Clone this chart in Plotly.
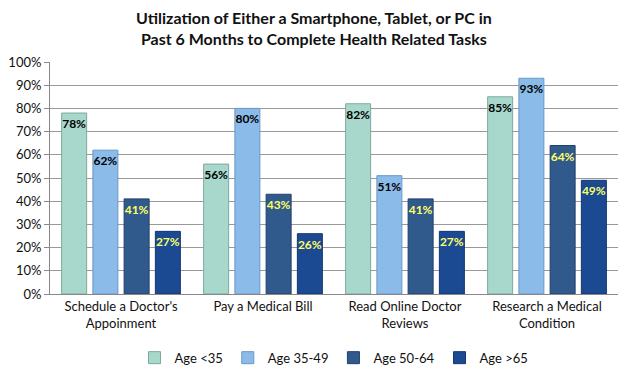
import plotly.graph_objects as go

categories = ["Schedule a Doctor's<br>Appoinment", "Pay a Medical Bill", "Read Online Doctor<br>Reviews", "Research a Medical<br>Condition"]
series_names = ["Age <35", "Age 35-49", "Age 50-64", "Age >65"]
age_lt35 = [78, 56, 82, 85]
age_35_49 = [62, 80, 51, 93]
age_50_64 = [41, 43, 41, 64]
age_gt65 = [27, 26, 27, 49]
tick_vals = [0, 10, 20, 30, 40, 50, 60, 70, 80, 90, 100]
tick_text = [f"{v}%" for v in tick_vals]

colors = ["#a8d8cc", "#8bbbe8", "#30598c", "#1c4a92"]
line_colors = ["#7fa89c", "#6a98c8", "#22416a", "#143670"]
text_colors = ["#000000", "#000000", "#ffff66", "#ffff66"]

fig = go.Figure()
for name, vals, c, lc, tc in zip(series_names, [age_lt35, age_35_49, age_50_64, age_gt65], colors, line_colors, text_colors):
    fig.add_trace(go.Bar(
        name=name, x=categories, y=vals,
        marker=dict(color=c, line=dict(color=lc, width=1)),
        text=[f"{v}%" for v in vals], textposition="inside", insidetextanchor="end",
        textangle=0,
        textfont=dict(color=tc, size=12, family="Lato, Open Sans, sans-serif", weight="bold"),
        cliponaxis=False,
    ))

fig.add_annotation(
    text="<b>Utilization of Either a Smartphone, Tablet, or PC in<br>Past 6 Months to Complete Health Related Tasks</b>",
    xref="paper", yref="paper", x=0.465, y=1, xanchor="center", yanchor="bottom",
    yshift=12, showarrow=False, align="center",
    font=dict(family="Lato, Open Sans, sans-serif", size=16, color="#111111"),
)

fig.update_layout(
    width=619, height=362,
    margin=dict(l=42, r=9, t=54, b=76, autoexpand=False),
    paper_bgcolor="white", plot_bgcolor="white",
    barmode="group", bargap=0.12, bargroupgap=0.2,
    uniformtext=dict(minsize=12, mode="show"),
    font=dict(family="Lato, Open Sans, sans-serif", size=13, color="#111111"),
    legend=dict(orientation="h", x=0.5, xanchor="center", y=-0.21, yanchor="top",
                font=dict(size=13), itemwidth=30, tracegroupgap=0),
    xaxis=dict(showline=True, linecolor="#888888", ticks="", tickfont=dict(size=13)),
    yaxis=dict(range=[0, 100], tickvals=tick_vals, ticktext=tick_text, showgrid=True,
               gridcolor="#999999", gridwidth=1, showline=True, linecolor="#888888",
               ticks="outside", ticklen=5, tickcolor="#888888", tickfont=dict(size=13)),
)

fig.write_html("out.html")
